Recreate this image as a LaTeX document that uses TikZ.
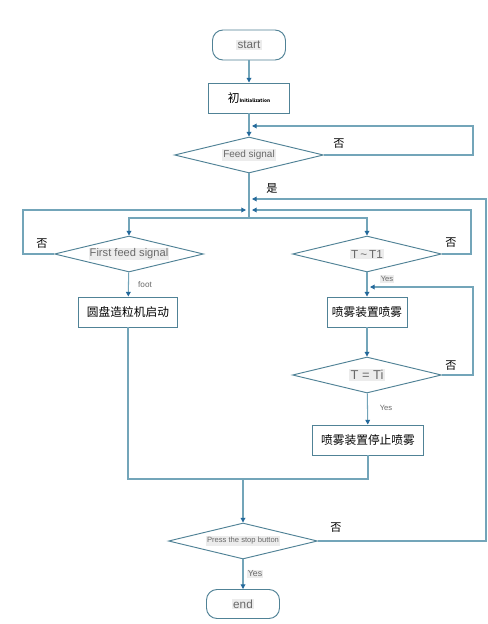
\documentclass[tikz,border=0pt]{standalone}
\usepackage{fontspec}
\setmainfont{Liberation Sans}
\newfontfamily\cjk{Noto Sans CJK SC}
\usetikzlibrary{shapes.geometric,arrows.meta,calc,positioning}
\definecolor{linec}{RGB}{115,165,185}
\definecolor{boxc}{RGB}{80,130,150}
\definecolor{tipc}{RGB}{35,105,155}
\definecolor{txtc}{RGB}{105,105,105}
\definecolor{hlc}{RGB}{236,236,236}
\newcommand{\hlt}[1]{{\setlength{\fboxsep}{1pt}\colorbox{hlc}{#1}}}
\tikzset{
  flow/.style={draw=linec, line width=0.9pt},
  arr/.style={flow, -{Triangle[length=4pt,width=4pt,color=tipc]}},
  term/.style={draw=boxc, line width=0.8pt, rounded corners=9pt, minimum width=2.19cm, minimum height=0.9cm, text=txtc, font=\fontsize{10}{12}\selectfont},
  proc/.style={draw=boxc, line width=0.8pt, minimum height=0.9cm, inner sep=2pt, font=\cjk\fontsize{10}{12}\selectfont},
  cond/.style={draw=boxc, line width=0.8pt, diamond, aspect=4.2, inner sep=0pt, minimum width=4.47cm, minimum height=1.08cm, text=txtc},
  lab/.style={font=\cjk\fontsize{9.5}{11}\selectfont},
  small/.style={text=txtc, font=\fontsize{6.5}{8}\selectfont}
}
\begin{document}
\begin{tikzpicture}[x=0.03cm,y=-0.03cm]
\fill[white] (0,0) rectangle (488,624);
\node[term] (start) at (249,45) {\hlt{start}};
\node[proc, minimum width=2.43cm] (init) at (249,98) {初{\fontsize{4}{5}\selectfont\bfseries Initialization}};
\node[cond, font=\fontsize{8.5}{10}\selectfont] (feed) at (249,155) {\hlt{Feed signal}};
\node[cond, font=\fontsize{9.5}{11}\selectfont] (first) at (129,254) {\hlt{First feed signal}};
\node[cond, font=\fontsize{10}{12}\selectfont] (tt1) at (367,254) {\hlt{T\,\textasciitilde\,T1}};
\node[proc, minimum width=2.97cm] (disc) at (128,312) {圆盘造粒机启动};
\node[proc, minimum width=2.4cm] (spray) at (367,312) {喷雾装置喷雾};
\node[cond, font=\fontsize{11}{13}\selectfont] (tti) at (367,375) {\hlt{T = Ti}};
\node[proc, minimum width=3.33cm] (halt) at (368,440) {喷雾装置停止喷雾};
\node[cond, font=\fontsize{6.5}{8}\selectfont] (stop) at (243,541) {\hlt{Press the stop button}};
\node[term, minimum height=0.87cm] (end) at (243,604) {\hlt{end}};
\coordinate (j1) at (249,218);
\coordinate (j2) at (243,479);
\draw[arr] (start) -- (init);
\draw[arr] (init) -- (feed);
\draw[arr] (feed.east) -- (473,155) |- (252,126);
\draw[flow] (feed.south) -- (j1);
\draw[arr] (j1) -| (first.north);
\draw[arr] (j1) -| (tt1.north);
\draw[arr] (first.west) -- (23,254) |- (246,210);
\draw[arr] (tt1.east) -- (471,254) |- (252,210);
\draw[arr] (stop.east) -- (486,541) |- (252,199);
\draw[arr] (first) -- (disc);
\draw[arr] (tt1) -- (spray);
\draw[arr] (spray) -- (tti);
\draw[arr] (tti.east) -- (473,375) |- (370,287);
\draw[arr] (tti) -- (halt);
\draw[flow] (disc) |- (j2) -| (halt);
\draw[arr] (j2) -- (stop);
\draw[arr] (stop) -- (end);
\node[lab] at (339,144) {否};
\node[lab] at (272,189) {是};
\node[lab] at (42,244) {否};
\node[lab] at (451,243) {否};
\node[lab] at (451,366) {否};
\node[lab] at (336,528) {否};
\node[small, font=\fontsize{7}{8}\selectfont] at (145,285) {foot};
\node[small] at (387,279) {\hlt{Yes}};
\node[small] at (386,408) {Yes};
\node[small, font=\fontsize{7.5}{9}\selectfont] at (255,574) {\hlt{Yes}};
\end{tikzpicture}
\end{document}
